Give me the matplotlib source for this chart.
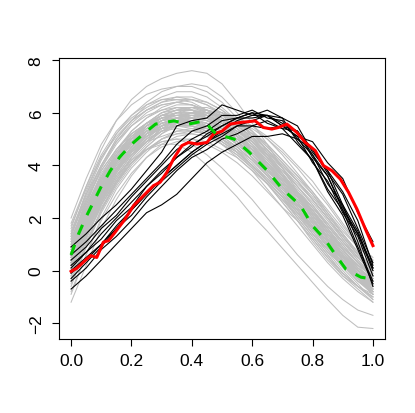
import numpy as np
import matplotlib
matplotlib.use("Agg")
import matplotlib.pyplot as plt

plt.rcParams['font.family'] = ['Liberation Sans', 'DejaVu Sans']

# common grid for the gray and black curves
grid = [0.0, 0.05, 0.1, 0.15, 0.2, 0.25, 0.3, 0.35, 0.4, 0.45, 0.5,
        0.55, 0.6, 0.65, 0.7, 0.75, 0.8, 0.85, 0.9, 0.95, 1.0]

gray_curves = [
    [0.4, 1.9, 3.2, 4.1, 4.6, 5.2, 5.6, 5.8, 5.6, 5.5, 5.3, 4.8, 4.3, 3.7, 3.1, 2.4, 1.7, 1.1, 0.4, -0.2, -0.6],
    [0.8, 2.2, 3.4, 4.2, 5.0, 5.5, 5.9, 5.9, 6.0, 5.8, 5.4, 5.1, 4.6, 4.0, 3.4, 2.7, 2.0, 1.2, 0.6, 0.1, -0.3],
    [0.2, 1.5, 2.8, 3.8, 4.5, 4.9, 5.3, 5.4, 5.3, 5.2, 4.8, 4.5, 4.0, 3.4, 2.8, 2.2, 1.4, 0.7, 0.2, -0.4, -0.8],
    [0.3, 1.5, 2.6, 3.6, 4.4, 4.9, 5.3, 5.6, 5.7, 5.8, 5.5, 5.1, 4.7, 4.2, 3.6, 2.9, 2.2, 1.6, 0.8, 0.1, -0.4],
    [0.9, 2.4, 3.7, 4.5, 5.1, 5.5, 5.7, 5.8, 5.5, 5.2, 4.8, 4.3, 3.8, 3.1, 2.4, 1.9, 1.1, 0.4, -0.2, -0.6, -0.9],
    [0.5, 2.1, 3.4, 4.4, 5.2, 5.6, 6.0, 6.2, 6.1, 5.9, 5.6, 5.2, 4.7, 4.0, 3.3, 2.6, 1.8, 1.1, 0.5, -0.2, -0.6],
    [0.6, 1.8, 2.9, 3.8, 4.4, 4.9, 5.1, 5.3, 5.3, 5.2, 4.9, 4.5, 4.0, 3.5, 2.9, 2.3, 1.7, 1.0, 0.4, -0.1, -0.4],
    [-0.2, 1.2, 2.5, 3.5, 4.3, 4.9, 5.4, 5.6, 5.7, 5.6, 5.4, 5.0, 4.6, 4.1, 3.4, 2.8, 2.1, 1.4, 0.8, 0.2, -0.2],
    [1.2, 2.5, 3.6, 4.4, 5.0, 5.3, 5.6, 5.7, 5.6, 5.4, 5.0, 4.6, 4.0, 3.4, 2.8, 2.0, 1.3, 0.6, -0.1, -0.6, -1.0],
    [0.7, 2.0, 3.3, 4.2, 4.9, 5.4, 5.8, 6.0, 5.9, 5.7, 5.4, 4.9, 4.4, 3.9, 3.2, 2.5, 1.9, 1.2, 0.5, -0.1, -0.7],
    [0.3, 1.7, 2.9, 3.9, 4.6, 5.1, 5.4, 5.5, 5.5, 5.3, 5.0, 4.6, 4.1, 3.5, 2.9, 2.2, 1.6, 0.9, 0.2, -0.3, -0.7],
    [0.0, 1.4, 2.7, 3.8, 4.6, 5.2, 5.6, 5.8, 5.8, 5.6, 5.3, 4.9, 4.4, 3.8, 3.2, 2.4, 1.7, 1.0, 0.3, -0.3, -0.8],
    [1.0, 2.3, 3.5, 4.3, 4.9, 5.3, 5.5, 5.6, 5.5, 5.3, 5.0, 4.7, 4.2, 3.7, 3.0, 2.4, 1.7, 1.1, 0.5, 0.0, -0.3],
    [0.5, 1.8, 3.0, 4.1, 4.9, 5.5, 5.9, 6.1, 6.1, 5.9, 5.6, 5.2, 4.7, 4.1, 3.5, 2.8, 2.1, 1.4, 0.6, 0.0, -0.5],
    [0.4, 1.7, 3.0, 3.9, 4.6, 5.1, 5.4, 5.5, 5.4, 5.2, 4.8, 4.4, 3.9, 3.3, 2.6, 1.9, 1.2, 0.5, -0.1, -0.6, -1.0],
    [0.6, 2.0, 3.2, 4.1, 4.8, 5.3, 5.7, 5.8, 5.8, 5.7, 5.4, 5.1, 4.6, 4.1, 3.5, 2.8, 2.2, 1.5, 0.8, 0.2, -0.2],
    [0.2, 1.6, 3.0, 4.0, 4.7, 5.2, 5.5, 5.7, 5.6, 5.4, 5.1, 4.7, 4.2, 3.6, 3.0, 2.3, 1.5, 0.8, 0.1, -0.5, -1.1],
    [0.8, 2.1, 3.3, 4.2, 4.8, 5.3, 5.6, 5.7, 5.6, 5.5, 5.1, 4.7, 4.2, 3.6, 2.9, 2.2, 1.5, 0.8, 0.2, -0.4, -0.8],
    [1.5, 2.9, 4.0, 4.9, 5.5, 5.9, 6.1, 6.2, 6.1, 5.8, 5.4, 4.9, 4.3, 3.7, 3.0, 2.3, 1.6, 0.9, 0.3, -0.3, -0.8],
    [0.3, 1.9, 3.3, 4.3, 5.1, 5.6, 6.0, 6.2, 6.2, 6.0, 5.7, 5.3, 4.8, 4.2, 3.6, 2.9, 2.3, 1.6, 0.9, 0.3, -0.2],
    [0.7, 2.1, 3.2, 4.2, 4.8, 5.2, 5.4, 5.5, 5.5, 5.4, 5.2, 5.0, 4.6, 4.1, 3.6, 3.0, 2.4, 1.7, 1.1, 0.5, 0.0],
    [-0.6, 0.9, 2.3, 3.4, 4.2, 4.8, 5.3, 5.6, 5.7, 5.6, 5.4, 5.0, 4.6, 4.1, 3.5, 2.9, 2.2, 1.5, 0.8, 0.2, -0.4],
    [1.0, 2.6, 3.9, 4.8, 5.5, 6.0, 6.3, 6.4, 6.3, 6.0, 5.6, 5.1, 4.5, 3.9, 3.3, 2.6, 1.9, 1.2, 0.6, 0.0, -0.5],
    [0.5, 1.8, 3.0, 3.9, 4.7, 5.2, 5.6, 5.8, 5.9, 5.8, 5.6, 5.3, 4.9, 4.4, 3.9, 3.3, 2.7, 2.0, 1.3, 0.6, 0.1],
    [0.9, 2.2, 3.4, 4.3, 5.0, 5.5, 5.8, 5.9, 5.8, 5.5, 5.2, 4.8, 4.3, 3.7, 3.1, 2.5, 1.8, 1.1, 0.4, -0.2, -0.7],
    [0.1, 1.6, 2.8, 3.8, 4.6, 5.1, 5.5, 5.7, 5.8, 5.7, 5.5, 5.2, 4.8, 4.3, 3.8, 3.2, 2.6, 1.9, 1.2, 0.5, -0.1],
    [0.4, 1.7, 2.9, 3.8, 4.5, 5.0, 5.3, 5.5, 5.5, 5.4, 5.2, 4.9, 4.5, 4.0, 3.4, 2.8, 2.1, 1.4, 0.7, 0.0, -0.6],
    [0.6, 2.2, 3.5, 4.5, 5.3, 5.8, 6.1, 6.3, 6.3, 6.1, 5.8, 5.4, 4.9, 4.3, 3.7, 3.0, 2.3, 1.6, 0.9, 0.3, -0.3],
    [1.2, 2.6, 3.8, 4.6, 5.2, 5.6, 5.8, 5.8, 5.7, 5.4, 5.0, 4.5, 3.9, 3.3, 2.7, 2.1, 1.4, 0.8, 0.2, -0.3, -0.7],
    [0.2, 1.5, 2.7, 3.7, 4.5, 5.0, 5.5, 5.8, 6.0, 6.0, 5.9, 5.6, 5.2, 4.8, 4.2, 3.6, 2.9, 2.1, 1.4, 0.7, 0.1],
    [0.8, 2.3, 3.6, 4.6, 5.3, 5.8, 6.2, 6.4, 6.5, 6.4, 6.1, 5.7, 5.2, 4.6, 3.9, 3.2, 2.5, 1.7, 1.0, 0.3, -0.3],
    [0.0, 1.5, 2.9, 3.9, 4.7, 5.3, 5.7, 5.9, 6.0, 5.9, 5.6, 5.3, 4.9, 4.3, 3.7, 3.0, 2.3, 1.5, 0.8, 0.1, -0.5],
    [1.4, 2.7, 3.8, 4.6, 5.2, 5.6, 5.9, 6.0, 6.0, 5.8, 5.5, 5.1, 4.6, 4.1, 3.5, 2.9, 2.3, 1.6, 0.9, 0.3, -0.3],
    [0.5, 1.9, 3.1, 4.0, 4.7, 5.2, 5.5, 5.6, 5.5, 5.3, 4.9, 4.5, 4.0, 3.4, 2.8, 2.2, 1.6, 1.0, 0.3, -0.3, -0.9],
    [0.3, 1.6, 2.8, 3.8, 4.6, 5.2, 5.7, 6.0, 6.2, 6.2, 6.0, 5.7, 5.3, 4.8, 4.2, 3.6, 3.0, 2.3, 1.6, 0.9, 0.4],
    [0.7, 2.0, 3.2, 4.2, 5.0, 5.6, 6.0, 6.1, 6.1, 6.0, 5.8, 5.5, 5.1, 4.6, 4.0, 3.4, 2.8, 2.1, 1.4, 0.7, 0.1],
    [-0.4, 1.0, 2.3, 3.4, 4.3, 4.9, 5.4, 5.7, 5.8, 5.7, 5.5, 5.1, 4.6, 4.0, 3.3, 2.6, 1.9, 1.2, 0.5, -0.2, -0.8],
    [1.1, 2.4, 3.5, 4.4, 5.1, 5.6, 5.9, 6.1, 6.1, 5.9, 5.6, 5.2, 4.7, 4.2, 3.6, 3.0, 2.4, 1.8, 1.1, 0.4, -0.2],
    [0.6, 2.0, 3.3, 4.3, 5.0, 5.4, 5.7, 5.8, 5.7, 5.5, 5.2, 4.8, 4.3, 3.8, 3.2, 2.6, 1.9, 1.3, 0.6, 0.0, -0.6],
    [0.2, 1.7, 3.1, 4.1, 4.8, 5.4, 5.8, 6.0, 6.0, 5.8, 5.5, 5.0, 4.5, 3.9, 3.2, 2.5, 1.8, 1.1, 0.4, -0.3, -0.9],
    [0.9, 2.3, 3.5, 4.4, 5.1, 5.5, 5.8, 5.9, 5.9, 5.8, 5.6, 5.3, 5.0, 4.5, 4.0, 3.4, 2.7, 2.0, 1.3, 0.6, 0.0],
    [0.4, 1.8, 3.1, 4.1, 4.9, 5.5, 5.9, 6.1, 6.2, 6.1, 5.8, 5.4, 4.9, 4.3, 3.6, 2.9, 2.2, 1.5, 0.8, 0.1, -0.4],
    [-0.2, 1.2, 2.6, 3.7, 4.5, 5.1, 5.5, 5.7, 5.7, 5.6, 5.3, 4.9, 4.4, 3.8, 3.2, 2.5, 1.8, 1.1, 0.4, -0.3, -0.9],
    # upper
    [1.6, 3.2, 4.6, 5.7, 6.5, 7.0, 7.3, 7.5, 7.6, 7.5, 7.1, 6.4, 5.6, 4.8, 3.9, 3.0, 2.2, 1.4, 0.6, 0.0, -0.5],
    [2.0, 3.5, 4.8, 5.7, 6.3, 6.7, 6.9, 7.0, 7.1, 7.0, 6.6, 6.0, 5.3, 4.5, 3.7, 2.9, 2.1, 1.3, 0.6, -0.1, -0.6],
    [1.3, 2.9, 4.2, 5.2, 5.9, 6.4, 6.8, 7.0, 7.0, 6.8, 6.4, 5.8, 5.1, 4.4, 3.6, 2.8, 2.0, 1.2, 0.5, -0.1, -0.5],
    [1.4, 3.0, 4.3, 5.2, 5.8, 6.2, 6.5, 6.6, 6.5, 6.3, 5.9, 5.4, 4.8, 4.1, 3.4, 2.6, 1.9, 1.2, 0.5, -0.1, -0.6],
    [0.9, 2.5, 3.9, 4.9, 5.6, 6.1, 6.4, 6.6, 6.6, 6.4, 6.1, 5.6, 5.0, 4.3, 3.6, 2.9, 2.1, 1.4, 0.7, 0.1, -0.4],
    [1.7, 3.1, 4.3, 5.1, 5.7, 6.1, 6.3, 6.4, 6.3, 6.1, 5.7, 5.2, 4.6, 3.9, 3.2, 2.4, 1.6, 0.9, 0.2, -0.4, -0.9],
    [1.1, 2.7, 4.0, 5.0, 5.7, 6.3, 6.6, 6.8, 6.8, 6.6, 6.2, 5.7, 5.1, 4.4, 3.6, 2.8, 2.0, 1.2, 0.4, -0.2, -0.8],
    [1.8, 3.2, 4.4, 5.3, 5.9, 6.3, 6.5, 6.5, 6.4, 6.1, 5.7, 5.2, 4.6, 4.0, 3.3, 2.6, 1.9, 1.2, 0.5, -0.1, -0.6],
    [1.3, 2.8, 4.0, 5.0, 5.7, 6.1, 6.4, 6.5, 6.5, 6.3, 6.0, 5.5, 5.0, 4.4, 3.8, 3.1, 2.4, 1.7, 1.0, 0.3, -0.2],
    # lower
    [-1.2, 0.2, 1.6, 2.7, 3.6, 4.3, 4.8, 5.1, 5.2, 5.1, 4.9, 4.5, 4.0, 3.4, 2.8, 2.1, 1.4, 0.7, 0.0, -0.6, -1.1],
    [-0.8, 0.6, 1.9, 2.9, 3.7, 4.3, 4.7, 4.9, 5.0, 4.9, 4.6, 4.3, 3.8, 3.3, 2.7, 2.0, 1.3, 0.6, -0.1, -0.6, -1.0],
    [-0.5, 0.9, 2.2, 3.2, 4.0, 4.6, 5.0, 5.2, 5.2, 5.1, 4.8, 4.4, 3.9, 3.3, 2.6, 1.9, 1.2, 0.5, -0.2, -0.7, -1.2],
    [0.0, 1.3, 2.5, 3.4, 4.1, 4.6, 4.9, 5.0, 5.0, 4.8, 4.5, 4.1, 3.6, 3.0, 2.4, 1.7, 1.0, 0.3, -0.3, -0.8, -1.2],
    [-0.3, 1.0, 2.3, 3.3, 4.1, 4.6, 5.0, 5.2, 5.3, 5.2, 5.0, 4.6, 4.2, 3.6, 3.0, 2.3, 1.6, 0.9, 0.3, -0.3, -0.9],
    [-0.9, 0.6, 2.0, 3.1, 3.9, 4.5, 5.0, 5.3, 5.4, 5.4, 5.2, 4.9, 4.5, 4.0, 3.4, 2.7, 2.0, 1.3, 0.6, -0.1, -0.7],
    [0.3, 1.6, 2.7, 3.6, 4.2, 4.6, 4.8, 4.8, 4.5, 4.0, 3.4, 2.8, 2.1, 1.5, 0.85, 0.2, -0.45, -1.1, -1.7, -2.15, -2.2],
    [0.0, 1.3, 2.5, 3.4, 4.1, 4.6, 4.9, 5.0, 4.8, 4.4, 3.9, 3.3, 2.7, 2.0, 1.3, 0.6, 0.0, -0.6, -1.1, -1.5, -1.7],
    # late peaking
    [0.2, 1.4, 2.6, 3.6, 4.4, 5.0, 5.5, 5.8, 6.0, 6.1, 6.0, 5.7, 5.3, 4.7, 4.1, 3.4, 2.7, 2.0, 1.2, 0.5, -0.1],
    [0.6, 1.8, 2.9, 3.8, 4.6, 5.1, 5.5, 5.8, 5.9, 5.9, 5.7, 5.5, 5.1, 4.6, 4.0, 3.4, 2.7, 2.0, 1.3, 0.6, 0.0],
    [-0.1, 1.1, 2.3, 3.3, 4.1, 4.7, 5.2, 5.5, 5.7, 5.8, 5.7, 5.4, 5.0, 4.5, 3.9, 3.2, 2.5, 1.8, 1.1, 0.4, -0.2],
    [0.9, 2.1, 3.2, 4.1, 4.8, 5.3, 5.7, 6.0, 6.1, 6.1, 5.9, 5.6, 5.2, 4.7, 4.1, 3.5, 2.9, 2.2, 1.5, 0.9, 0.4],
    [0.4, 1.5, 2.6, 3.5, 4.3, 4.9, 5.4, 5.7, 5.9, 6.0, 6.0, 5.8, 5.5, 5.1, 4.6, 4.0, 3.4, 2.6, 1.8, 1.0, 0.3],
    [0.1, 1.3, 2.4, 3.3, 4.1, 4.7, 5.2, 5.6, 5.8, 5.9, 5.9, 5.8, 5.5, 5.0, 4.4, 3.7, 3.0, 2.2, 1.4, 0.6, 0.0],
    [0.5, 1.7, 2.8, 3.8, 4.5, 5.1, 5.5, 5.8, 6.0, 6.0, 5.9, 5.7, 5.4, 5.0, 4.5, 3.9, 3.2, 2.5, 1.7, 1.0, 0.5],
]

black_curves = [
    [0.9, 1.4, 2.0, 2.5, 3.1, 3.8, 4.5, 5.5, 5.7, 5.8, 6.3, 6.1, 5.9, 5.9, 5.6, 5.3, 4.6, 3.7, 2.9, 1.6, 0.3],
    [-0.7, -0.2, 0.4, 1.0, 1.6, 2.2, 2.5, 2.9, 3.5, 4.1, 4.5, 4.8, 5.1, 5.1, 5.2, 5.0, 4.6, 3.8, 3.0, 1.9, 0.2],
    [0.1, 0.7, 1.2, 1.9, 2.4, 3.2, 3.7, 4.3, 4.7, 5.2, 5.5, 5.8, 5.8, 5.9, 5.5, 5.3, 4.3, 3.6, 2.3, 1.4, 0.0],
    [-0.3, 0.3, 0.9, 1.6, 2.1, 2.8, 3.4, 3.9, 4.4, 4.8, 5.1, 5.5, 5.7, 5.9, 5.5, 5.1, 4.1, 3.4, 2.2, 1.3, -0.2],
    [0.4, 0.9, 1.6, 2.1, 2.8, 3.4, 4.0, 4.6, 5.0, 5.3, 5.7, 5.8, 6.0, 5.6, 5.4, 4.8, 4.2, 3.1, 2.3, 0.9, -0.4],
    [0.0, 0.5, 1.0, 1.6, 2.3, 2.9, 3.5, 4.0, 4.5, 4.9, 5.3, 5.7, 5.9, 6.1, 5.8, 5.5, 4.5, 3.8, 2.5, 1.5, 0.1],
    [-0.4, 0.1, 0.8, 1.3, 1.9, 2.6, 3.2, 3.8, 4.3, 4.6, 5.0, 5.2, 5.5, 5.4, 5.5, 5.1, 4.9, 4.1, 3.5, 2.2, 1.1],
    [0.2, 0.7, 1.4, 2.0, 2.6, 3.2, 3.8, 4.3, 4.8, 5.1, 5.5, 5.8, 6.0, 5.9, 5.8, 4.9, 4.2, 3.0, 2.1, 0.8, -0.5],
    [-0.1, 0.4, 1.0, 1.7, 2.3, 2.9, 3.5, 4.0, 4.5, 4.9, 5.2, 5.5, 5.5, 5.7, 5.4, 5.3, 4.4, 3.6, 2.4, 1.4, 0.1],
    [0.6, 1.1, 1.7, 2.3, 2.9, 3.5, 4.1, 4.8, 5.3, 5.5, 5.9, 5.9, 6.1, 5.8, 5.7, 5.0, 4.4, 3.3, 2.5, 1.1, -0.6],
]

red_x = [0.0, 0.019, 0.046, 0.065, 0.085, 0.107, 0.124, 0.146, 0.179, 0.207,
         0.24, 0.273, 0.295, 0.317, 0.339, 0.367, 0.389, 0.417, 0.45, 0.472,
         0.5, 0.527, 0.56, 0.61, 0.637, 0.665, 0.687, 0.715, 0.748, 0.776,
         0.809, 0.836, 0.864, 0.892, 0.919, 0.947, 0.975, 1.0]
red_y = [-0.03, 0.09, 0.38, 0.57, 0.5, 1.08, 1.14, 1.46, 1.96, 2.47,
         2.85, 3.23, 3.36, 3.73, 4.24, 4.75, 4.87, 4.81, 4.87, 5.19,
         5.3, 5.57, 5.63, 5.69, 5.44, 5.38, 5.44, 5.57, 5.25, 4.87,
         4.56, 3.99, 3.8, 3.48, 2.98, 2.34, 1.58, 0.95]

green_x = [0.0, 0.025, 0.05, 0.1, 0.13, 0.16, 0.2, 0.235, 0.28, 0.34, 0.39,
           0.44, 0.48, 0.54, 0.59, 0.65, 0.7, 0.76, 0.8, 0.84, 0.87, 0.91,
           0.96, 1.0]
green_y = [0.6, 1.4, 2.05, 3.2, 3.8, 4.3, 4.8, 5.15, 5.57, 5.69, 5.57,
           5.69, 5.19, 5.0, 4.5, 3.8, 3.1, 2.47, 1.7, 1.2, 0.7, 0.06,
           -0.25, -0.32]

fig = plt.figure(figsize=(4.15, 4.14), dpi=100)
ax = fig.add_axes([0.1422, 0.1787, 0.7855, 0.6787])

for c in gray_curves:
    ax.plot(grid, c, color='#bebebe', lw=0.75, zorder=1)
for c in black_curves:
    ax.plot(grid, c, color='black', lw=0.8, zorder=2)
ax.plot(red_x, red_y, color='#ff0000', lw=2.2, zorder=3)
ax.plot(green_x, green_y, color='#00cd00', lw=2.2, ls=(0, (3.5, 3.5)), zorder=4)

ax.set_xlim(-0.04, 1.04)
ax.set_ylim(-2.6, 8.08)
ax.set_xticks([0.0, 0.2, 0.4, 0.6, 0.8, 1.0])
ax.set_xticklabels(['0.0', '0.2', '0.4', '0.6', '0.8', '1.0'])
ax.set_yticks([-2, 0, 2, 4, 6, 8])
ax.set_yticklabels(['\u22122', '0', '2', '4', '6', '8'], rotation=90, va='center')
ax.tick_params(direction='out', length=5, width=0.8, labelsize=12.5)
ax.tick_params(axis='x', pad=5)
ax.tick_params(axis='y', pad=6)
for s in ax.spines.values():
    s.set_linewidth(0.8)

fig.savefig('out.png', dpi=100)
